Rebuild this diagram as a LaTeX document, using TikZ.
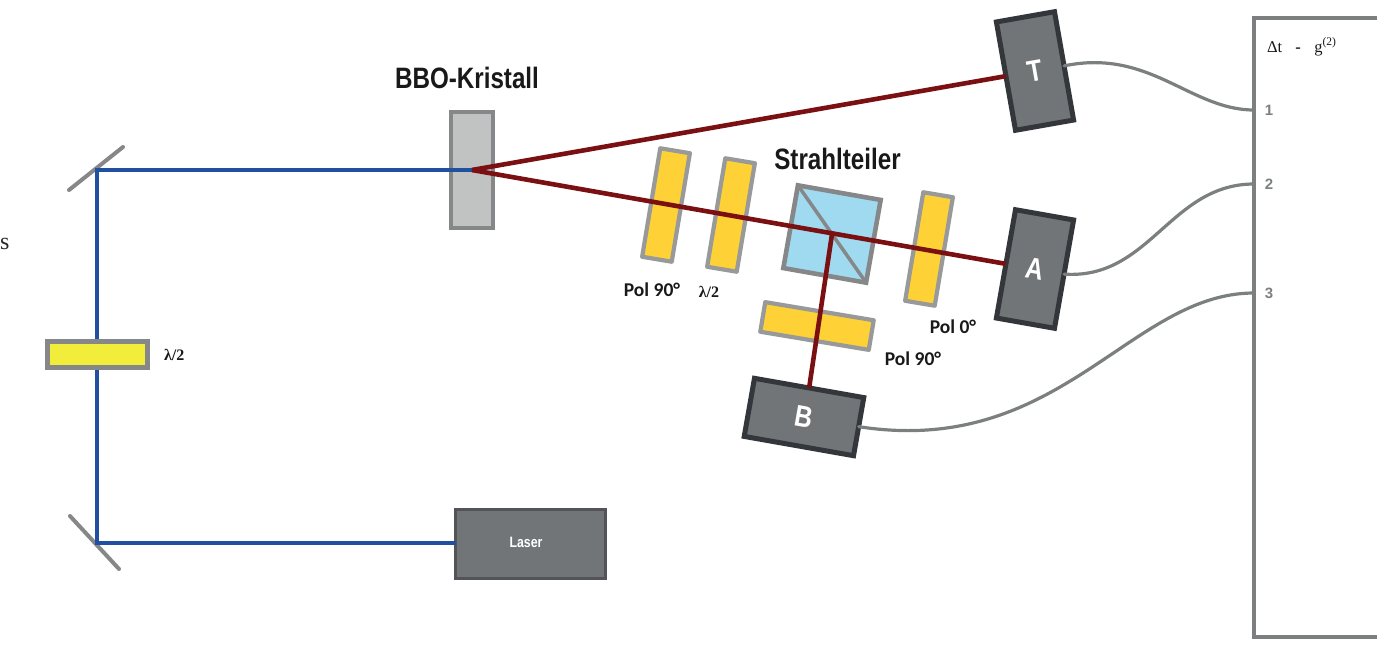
\documentclass[tikz,border=0pt]{standalone}
\usepackage{fontspec}
\setmainfont{Liberation Serif}
\newfontfamily\narrowf[FakeStretch=0.82]{Liberation Sans}
\newfontfamily\calf{Carlito}
\newfontfamily\dvs{Liberation Sans}
\definecolor{beamblue}{HTML}{1F51A0}
\definecolor{beamred}{HTML}{7A1012}
\definecolor{wiregrey}{HTML}{7C7F80}
\definecolor{framegrey}{HTML}{858788}
\definecolor{darkbody}{HTML}{727577}
\definecolor{darkline}{HTML}{33363A}
\definecolor{plateyellow}{HTML}{FED136}
\definecolor{halfyellow}{HTML}{F2EC3A}
\definecolor{cubeblue}{HTML}{A0DAF0}
\definecolor{crystal}{HTML}{C1C3C2}
\tikzset{
  every node/.style={inner sep=0pt,outer sep=0pt},
  detector/.style={draw=darkline,fill=darkbody,line width=5pt,text=white,font=\narrowf\bfseries\fontsize{30}{30}\selectfont},
  plate/.style={draw=framegrey!85!white,fill=plateyellow,line width=4.2pt,line join=round},
  beam/.style={line width=4.6pt},
  bluebeam/.style={beam,draw=beamblue},
  redbeam/.style={beam,draw=beamred},
  wire/.style={draw=wiregrey,line width=3.2pt,line cap=round},
  mirror/.style={draw=framegrey,line width=4pt,line cap=round},
  poltext/.style={font=\calf\bfseries\fontsize{19.5}{20}\selectfont,text=black!90},
  lamtext/.style={font=\bfseries\fontsize{16}{16}\selectfont,text=black!90},
  headline/.style={font=\narrowf\bfseries\fontsize{29.5}{30}\selectfont,text=black!90},
  chan/.style={font=\dvs\bfseries\fontsize{15}{15}\selectfont,text=wiregrey},
}
\begin{document}
\begin{tikzpicture}[x=1pt,y=-1pt]
\useasboundingbox (0,0) rectangle (1377,648);
\clip (0,0) rectangle (1377,648);
% instrument box (open to the right, cut by the picture edge)
\node[draw=wiregrey,line width=4.5pt,minimum width=300pt,minimum height=619pt,anchor=north west] (box) at (1254,18) {};
\coordinate (p1) at (1254,110);
\coordinate (p2) at (1254,184);
\coordinate (p3) at (1254,293);
\node[anchor=base west,font=\fontsize{16.5}{17}\selectfont,text=black!90] (title) at (1267,52) {Δt\;\; \textbf{-}\;\; g\textsuperscript{(2)}};
\node[chan] (n1) at (1269,110) {1};
\node[chan] (n2) at (1269,184) {2};
\node[chan] (n3) at (1269,293) {3};
% mirrors
\coordinate (m1a) at (69,190); \coordinate (m1b) at (123,147);
\coordinate (m2a) at (70,516); \coordinate (m2b) at (119,569);
\draw[mirror] (m1a) -- (m1b);
\draw[mirror] (m2a) -- (m2b);
\coordinate (turn1) at (97,170);
\coordinate (turn2) at (97,543);
% crystal, laser
\node[draw=framegrey,fill=crystal,line width=3.5pt,minimum width=42pt,minimum height=116pt] (bbo) at (472,170) {};
\node[draw=darkline!85!white,fill=darkbody,line width=2.5pt,minimum width=150pt,minimum height=69pt] (laser) at (530.5,544) {};
\node[text=white,font=\narrowf\bfseries\fontsize{15}{15}\selectfont] (lasert) at (526,542) {Laser};
% blue beam
\draw[bluebeam] (bbo.center) -- (turn1) -- (turn2) -- (laser.west |- turn2);
% half-wave plate
\node[draw=framegrey,fill=halfyellow,line width=4.5pt,minimum width=100pt,minimum height=26pt] (hwp) at (97.5,354.5) {};
\node[lamtext,anchor=west] (hwpt) at (164,355) {λ/2};
% optics
\node[plate,rotate=-9.5,minimum width=30pt,minimum height=110pt] (pol1) at (666,205) {};
\node[plate,rotate=-9.5,minimum width=30pt,minimum height=110pt] (lam) at (731,215) {};
\node[plate,rotate=-9.5,minimum width=30pt,minimum height=110pt] (pol0) at (929,249) {};
\node[plate,rotate=-9.5,minimum width=110pt,minimum height=30pt] (pol2) at (817,326) {};
\node[draw=framegrey,fill=cubeblue,line width=4.6pt,rotate=-10,minimum width=84pt,minimum height=84pt] (cube) at (832,234) {};
\draw[draw=framegrey,line width=3.5pt] (cube.north west) -- (cube.south east);
% detectors
\node[detector,rotate=10,minimum width=59pt,minimum height=110pt] (T) at (1035,71) {T};
\node[detector,rotate=-10,minimum width=59pt,minimum height=110pt] (A) at (1035,269) {A};
\node[detector,rotate=-10,minimum width=111pt,minimum height=59pt] (B) at (804,417) {B};
% red beams
\draw[redbeam] (bbo.center) -- (T.west);
\draw[redbeam] (bbo.center) -- (A.west);
\draw[redbeam] (cube.center) -- (B.north);
% wires
\draw[wire] (T.east) .. controls (1150,48) and (1190,110) .. (p1);
\draw[wire] (A.east) .. controls (1150,280) and (1170,184) .. (p2);
\draw[wire] (B.east) .. controls (1060,458) and (1130,293) .. (p3);
% labels
\node[headline] (bbot) at (467,78) {BBO-Kristall};
\node[headline] (bst) at (837.5,159) {Strahlteiler};
\node[poltext] (l1) at (652,290) {Pol 90°};
\node[lamtext] (l2) at (709,292) {λ/2};
\node[poltext] (l3) at (953,327) {Pol 0°};
\node[poltext] (l4) at (913,359) {Pol 90°};
\node[font=\fontsize{24}{24}\selectfont,text=black!85,anchor=west] (cuts) at (0,244) {s};
\end{tikzpicture}
\end{document}
